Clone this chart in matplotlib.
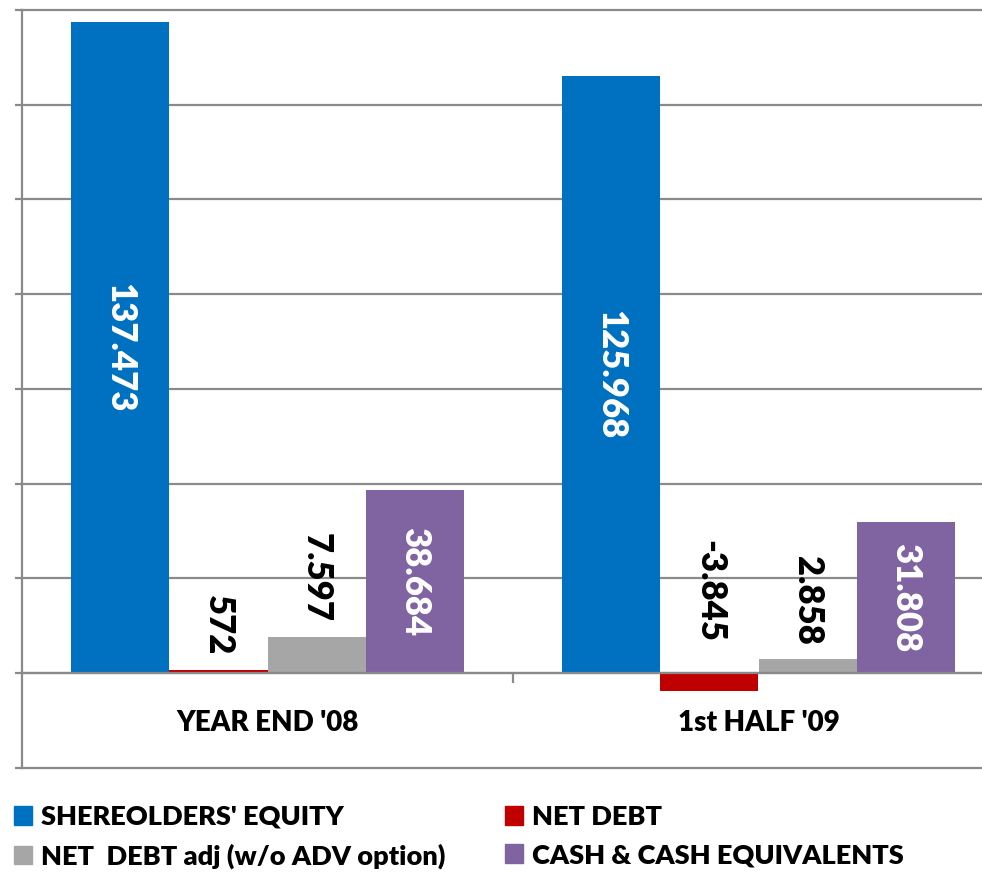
import numpy as np
import matplotlib
matplotlib.use("Agg")
import matplotlib.pyplot as plt
from matplotlib.patches import Patch

categories = ["YEAR END '08", "1st HALF '09"]
series_names = ["SHEREOLDERS' EQUITY", "NET DEBT", "NET  DEBT adj (w/o ADV option)", "CASH & CASH EQUIVALENTS"]
equity = [137473, 125968]
net_debt = [572, -3845]
net_debt_adj = [7597, 2858]
cash = [38684, 31808]
colors = ["#0070C0", "#C00000", "#A6A6A6", "#8064A2"]
y_ticks = list(range(-20000, 140001, 20000))

plt.rcParams['font.family'] = ['Lato', 'DejaVu Sans']
W = 'heavy'
plt.rcParams['font.weight'] = W

DPI = 100
fig = plt.figure(figsize=(9.82, 8.77), dpi=DPI)
ax = fig.add_axes([22/982, (877-767.7)/877, 1.0, (767.7-10)/877])

grid_c = "#8a8a8a"
x = np.arange(len(categories))
width = 0.2
series = [equity, net_debt, net_debt_adj, cash]
offsets = [-0.3, -0.1, 0.1, 0.3]
containers = []
for s, off, c, name in zip(series, offsets, colors, series_names):
    containers.append(ax.bar(x + off, s, width, color=c, label=name, zorder=3))

def fmt(v):
    return f"{v:,}".replace(",", ".")

px2pt = 72 / DPI
lab_fs = 25
for i in (0, 3):
    ax.bar_label(containers[i], labels=[fmt(v) for v in series[i]], label_type='center',
                 rotation=270, color='white', fontsize=lab_fs, fontweight=W, zorder=4)
for i in (1, 2):
    for xi, v in zip(x + offsets[i], series[i]):
        pad = 15 if v >= 0 else 31
        ax.annotate(fmt(v), (xi, max(v, 0)), xytext=(0, pad * px2pt), textcoords='offset points',
                    ha='center', va='bottom', rotation=270, fontsize=lab_fs, fontweight=W,
                    color='black', zorder=4)

ax.set_xlim(-0.5, 1.5)
ax.set_ylim(-20000, 140000)
ax.set_yticks(y_ticks)
ax.yaxis.grid(True, color=grid_c, lw=1.6, zorder=1)
for gl in ax.get_ygridlines():
    gl.set_clip_on(False)
ax.tick_params(axis='y', length=7 * px2pt, width=1.6, color=grid_c, labelleft=False, direction='out')

ax.spines['top'].set_visible(False)
ax.spines['right'].set_visible(False)
ax.spines['left'].set_color(grid_c)
ax.spines['left'].set_linewidth(1.6)
ax.spines['bottom'].set_position(('data', 0))
ax.spines['bottom'].set_color(grid_c)
ax.spines['bottom'].set_linewidth(1.6)
ax.spines['bottom'].set_zorder(5)

ax.set_xticks(x)
ax.set_xticklabels(categories, fontsize=20, fontweight=W)
ax.set_xticks([0.5], minor=True)
ax.tick_params(axis='x', which='major', length=0, pad=37 * px2pt)
ax.tick_params(axis='x', which='minor', length=10 * px2pt, width=1.6, color=grid_c, direction='out')

order = [0, 2, 1, 3]
handles = [Patch(color=colors[i]) for i in order]
labels = [series_names[i] for i in order]
fig.legend(handles, labels, loc='upper left', bbox_to_anchor=(14/982, 1 - 805/877), ncols=2,
           frameon=False, prop={'weight': W, 'size': 19.5},
           handlelength=0.66, handleheight=0.66, handletextpad=0.34, columnspacing=2.2,
           labelspacing=0.52, borderpad=0, borderaxespad=0)

fig.savefig("out.png", dpi=DPI)
